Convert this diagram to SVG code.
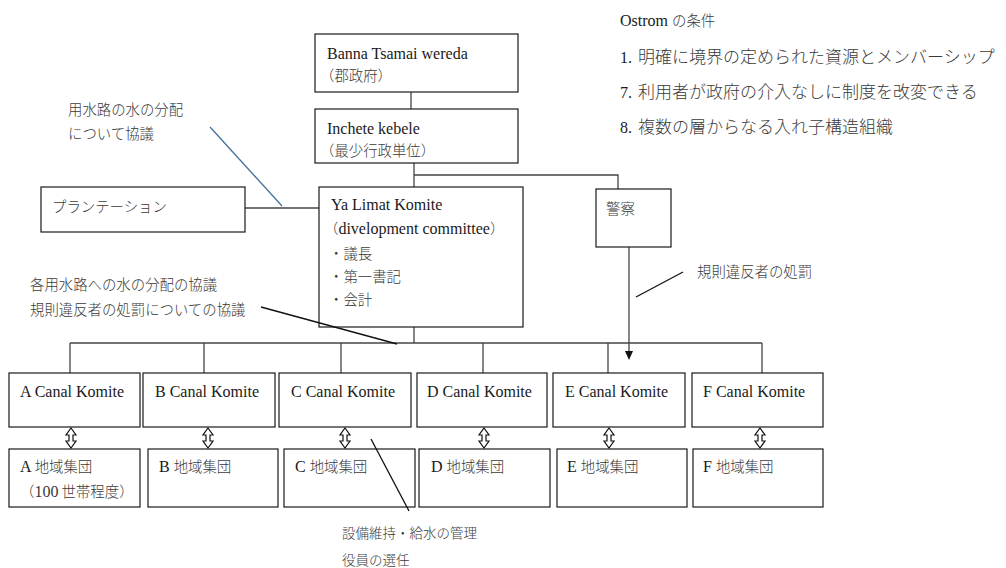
<svg xmlns="http://www.w3.org/2000/svg" width="1006" height="568" viewBox="0 0 1006 568">
<style>
text{font-family:"Liberation Serif","Noto Sans CJK JP",serif;font-size:16px;fill:#1a1a1a}
.j,.jo,.js{font-family:"Noto Sans CJK JP","Liberation Serif",sans-serif;font-weight:300;fill:#3a3a3a}
.j{font-size:14.4px}
.jo{font-size:17px}
.js{font-size:13.5px}
.box{fill:#fff;stroke:#1a1a1a;stroke-width:1.2}
.con{fill:none;stroke:#444;stroke-width:1.3}
.ann{fill:none;stroke:#111;stroke-width:1.3}
.dbl{fill:#fff;stroke:#111;stroke-width:1.2}
</style>

<g id="connectors">
<line class="con" x1="411" y1="92" x2="411" y2="109"/>
<polyline class="con" points="414,163 414,187"/>
<polyline class="con" points="414,175 618,175 618,189"/>
<line class="con" x1="245" y1="208" x2="319" y2="208"/>
<line class="con" x1="414" y1="327" x2="414" y2="343"/>
<line class="con" x1="70" y1="343" x2="762" y2="343"/>
<line class="con" x1="70" y1="343" x2="70" y2="373"/>
<line class="con" x1="204" y1="343" x2="204" y2="373"/>
<line class="con" x1="341" y1="343" x2="341" y2="373"/>
<line class="con" x1="483" y1="343" x2="483" y2="373"/>
<line class="con" x1="608" y1="343" x2="608" y2="373"/>
<line class="con" x1="762" y1="343" x2="762" y2="373"/>
<line class="con" x1="629" y1="247" x2="629" y2="351"/>
<path d="M625,351 L633,351 L629,360 Z" fill="#111"/>
<g id="double-arrows">
<path class="dbl" d="M71,428 L76,435 L73,435 L73,441 L76,441 L71,448 L66,441 L69,441 L69,435 L66,435 Z"/>
<path class="dbl" d="M208,428 L213,435 L210,435 L210,441 L213,441 L208,448 L203,441 L206,441 L206,435 L203,435 Z"/>
<path class="dbl" d="M345,428 L350,435 L347,435 L347,441 L350,441 L345,448 L340,441 L343,441 L343,435 L340,435 Z"/>
<path class="dbl" d="M484,428 L489,435 L486,435 L486,441 L489,441 L484,448 L479,441 L482,441 L482,435 L479,435 Z"/>
<path class="dbl" d="M609,428 L614,435 L611,435 L611,441 L614,441 L609,448 L604,441 L607,441 L607,435 L604,435 Z"/>
<path class="dbl" d="M760,428 L765,435 L762,435 L762,441 L765,441 L760,448 L755,441 L758,441 L758,435 L755,435 Z"/>
</g>
</g>

<g id="ostrom">
<text x="620" y="26">Ostrom <tspan class="j" font-size="16">の条件</tspan></text>
<text x="620" y="63">1.<tspan class="jo" x="638">明確に境界の定められた資源とメンバーシップ</tspan></text>
<text x="620" y="98">7.<tspan class="jo" x="638">利用者が政府の介入なしに制度を改変できる</tspan></text>
<text x="620" y="133">8.<tspan class="jo" x="638">複数の層からなる入れ子構造組織</tspan></text>
</g>

<g id="banna">
<rect class="box" x="315" y="34" width="203" height="58"/>
<text x="327" y="59">Banna Tsamai wereda</text>
<text x="320" y="81" class="j">（郡政府）</text>
</g>

<g id="inchete">
<rect class="box" x="315" y="109" width="203" height="54"/>
<text x="327" y="134">Inchete kebele</text>
<text x="320" y="156" class="j">（最少行政単位）</text>
</g>

<g id="yalimat">
<rect class="box" x="319" y="187" width="204" height="140"/>
<text x="331" y="210">Ya Limat Komite</text>
<text x="324" y="234"><tspan class="j">（</tspan>divelopment committee<tspan class="j">）</tspan></text>
<text x="329" y="259" class="j">・議長</text>
<text x="329" y="282" class="j">・第一書記</text>
<text x="329" y="305" class="j">・会計</text>
</g>

<g id="plantation">
<rect class="box" x="41" y="187" width="204" height="45"/>
<text x="52" y="212" class="j">プランテーション</text>
</g>

<g id="police">
<rect class="box" x="596" y="189" width="75" height="58"/>
<text x="606" y="214" class="j">警察</text>
</g>

<g id="labels">
<text x="68" y="115" class="j">用水路の水の分配</text>
<text x="68" y="139" class="j">について協議</text>
<text x="30" y="290" class="j">各用水路への水の分配の協議</text>
<text x="30" y="315" class="j">規則違反者の処罰についての協議</text>
<text x="697" y="277" class="j">規則違反者の処罰</text>
<text x="342" y="538" class="js">設備維持・給水の管理</text>
<text x="342" y="565" class="js">役員の選任</text>
</g>

<g id="canalA"><rect class="box" x="9" y="373" width="131" height="54"/><text x="20" y="397">A Canal Komite</text></g>
<g id="canalB"><rect class="box" x="143" y="373" width="132" height="54"/><text x="155" y="397">B Canal Komite</text></g>
<g id="canalC"><rect class="box" x="279" y="373" width="132" height="54"/><text x="291" y="397">C Canal Komite</text></g>
<g id="canalD"><rect class="box" x="417" y="373" width="130" height="54"/><text x="427" y="397">D Canal Komite</text></g>
<g id="canalE"><rect class="box" x="553" y="373" width="132" height="54"/><text x="565" y="397">E Canal Komite</text></g>
<g id="canalF"><rect class="box" x="692" y="373" width="131" height="54"/><text x="703" y="397">F Canal Komite</text></g>

<g id="groupA"><rect class="box" x="9" y="449" width="131" height="58"/><text x="20" y="472">A <tspan class="j">地域集団</tspan></text><text x="20" y="497" class="j">（<tspan font-family="Liberation Serif" font-size="16">100</tspan> 世帯程度）</text></g>
<g id="groupB"><rect class="box" x="148" y="449" width="130" height="58"/><text x="159" y="472">B <tspan class="j">地域集団</tspan></text></g>
<g id="groupC"><rect class="box" x="284" y="449" width="131" height="58"/><text x="295" y="472">C <tspan class="j">地域集団</tspan></text></g>
<g id="groupD"><rect class="box" x="419" y="449" width="131" height="58"/><text x="431" y="472">D <tspan class="j">地域集団</tspan></text></g>
<g id="groupE"><rect class="box" x="557" y="449" width="130" height="58"/><text x="567" y="472">E <tspan class="j">地域集団</tspan></text></g>
<g id="groupF"><rect class="box" x="693" y="449" width="130" height="58"/><text x="703" y="472">F <tspan class="j">地域集団</tspan></text></g>

<g id="annotation-lines">
<line x1="210" y1="127" x2="282" y2="206" stroke="#41719C" stroke-width="1.3"/>
<line class="ann" x1="261" y1="307" x2="397" y2="344"/>
<line class="ann" x1="683" y1="272" x2="636" y2="297"/>
<line class="ann" x1="371" y1="439" x2="409" y2="511"/>
</g>
</svg>
